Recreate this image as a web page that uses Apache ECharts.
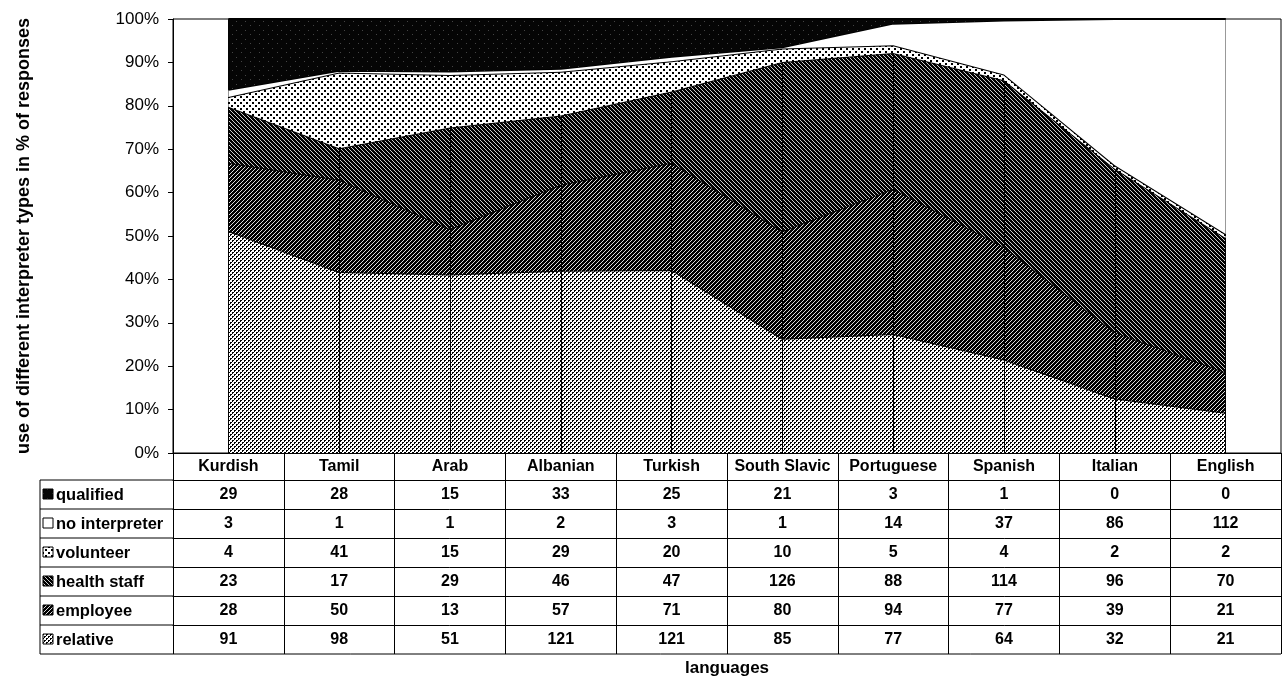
<!DOCTYPE html>
<html>
<head>
<meta charset="utf-8">
<script src="https://cdn.jsdelivr.net/npm/echarts@6/dist/echarts.min.js"></script>
<style>
html,body{margin:0;padding:0;background:#fff;}
#c{width:1287px;height:679px;}
</style>
</head>
<body>
<div id="c"></div>
<script>
// ---- data ----
const categories = ['Kurdish','Tamil','Arab','Albanian','Turkish','South Slavic','Portuguese','Spanish','Italian','English'];
const qualified     = [29, 28, 15, 33, 25, 21, 3, 1, 0, 0];
const noInterpreter = [3, 1, 1, 2, 3, 1, 14, 37, 86, 112];
const volunteer     = [4, 41, 15, 29, 20, 10, 5, 4, 2, 2];
const healthStaff   = [23, 17, 29, 46, 47, 126, 88, 114, 96, 70];
const employee      = [28, 50, 13, 57, 71, 80, 94, 77, 39, 21];
const relative      = [91, 98, 51, 121, 121, 85, 77, 64, 32, 21];
const seriesNames   = ['qualified','no interpreter','volunteer','health staff','employee','relative'];
const yTitle = 'use of different interpreter types in % of responses';
const xTitle = 'languages';

// ---- patterns ----
function pattern(size, draw){
  const c = document.createElement('canvas');
  c.width = size; c.height = size;
  const ctx = c.getContext('2d');
  draw(ctx, size);
  return {image: c, repeat: 'repeat'};
}
function px(ctx, pts, col){ ctx.fillStyle = col; pts.forEach(p => ctx.fillRect(p[0], p[1], 1, 1)); }
const patRelative = pattern(4, (ctx)=>{ ctx.fillStyle='#fff'; ctx.fillRect(0,0,4,4);
  px(ctx, [[0,0],[1,0],[0,1],[2,2],[3,2],[2,3]], '#000'); });
const patVolunteer = pattern(6, (ctx)=>{ ctx.fillStyle='#fff'; ctx.fillRect(0,0,6,6);
  ctx.fillStyle='#000'; ctx.fillRect(0,0,2,2); ctx.fillRect(3,3,2,2); });
const patEmployee = pattern(4, (ctx)=>{ ctx.fillStyle='#000'; ctx.fillRect(0,0,4,4);
  px(ctx, [[3,0],[2,1],[1,2],[0,3]], '#ddd'); });
const patHealth = pattern(4, (ctx)=>{ ctx.fillStyle='#000'; ctx.fillRect(0,0,4,4);
  px(ctx, [[0,0],[1,1],[2,2],[3,3]], '#ccc'); });
const patQualified = pattern(9, (ctx)=>{ ctx.fillStyle='#050505'; ctx.fillRect(0,0,9,9);
  px(ctx, [[2,3],[7,7]], '#444'); });
const fills = {
  'qualified': patQualified, 'no interpreter': '#ffffff', 'volunteer': patVolunteer,
  'health staff': patHealth, 'employee': patEmployee, 'relative': patRelative
};
const rawBy = {
  'qualified': qualified, 'no interpreter': noInterpreter, 'volunteer': volunteer,
  'health staff': healthStaff, 'employee': employee, 'relative': relative
};

// ---- percentages (100% stack) ----
const totals = categories.map((_, i) => seriesNames.reduce((s, n) => s + rawBy[n][i], 0));
const pct = arr => arr.map((v, i) => v / totals[i] * 100);

// ---- layout ----
const W = 1287, H = 679;
const GL = 173, GR = 6, GT = 19, GB = 226;
const plotBottom = H - GB;
const HEADER_H = 27, ROW_H = 29, TABLE_LEFT = 40;
const tableBottom = plotBottom + HEADER_H + ROW_H * seriesNames.length;
const FONT = '"Liberation Sans", Arial, Helvetica, sans-serif';

const chart = echarts.init(document.getElementById('c'), null, {renderer: 'canvas'});

const stackOrder = ['relative','employee','health staff','volunteer','no interpreter','qualified'];
const series = stackOrder.map((name, k) => {
  const s = {
    name, type: 'line', stack: 'total', data: pct(rawBy[name]),
    symbol: 'none', smooth: false, xAxisIndex: 0,
    lineStyle: {color: '#000', width: 2},
    itemStyle: {color: '#000'},
    areaStyle: {color: fills[name], opacity: 1},
    z: 2 + k, animation: false, silent: true
  };
  if (name === 'qualified') {
    s.markLine = {
      silent: true, symbol: ['none','none'], animation: false,
      label: {show: false},
      lineStyle: {color: '#000', width: 1, type: 'solid'},
      data: categories.map(c => ({xAxis: c}))
    };
  }
  return s;
});

// extra x axes that hold the table rows
const rowAxes = seriesNames.map((name, r) => ({
  type: 'category', gridIndex: 0, position: 'bottom', data: categories,
  offset: HEADER_H + ROW_H * r,
  axisLine: {show: true, lineStyle: {color: '#000', width: 1}},
  axisTick: {show: false}, splitLine: {show: false},
  axisLabel: {
    interval: 0, margin: 7, color: '#000', fontSize: 16, fontWeight: 'bold', fontFamily: FONT,
    formatter: (v, idx) => String(rawBy[name][idx])
  }
}));

const graphics = [];
// legend column borders
graphics.push({type: 'line', shape: {x1: TABLE_LEFT, y1: plotBottom + HEADER_H, x2: TABLE_LEFT, y2: tableBottom},
  style: {stroke: '#000', lineWidth: 1}});
for (let r = 0; r <= seriesNames.length; r++) {
  const y = plotBottom + HEADER_H + ROW_H * r;
  graphics.push({type: 'line', shape: {x1: TABLE_LEFT, y1: y, x2: r === seriesNames.length ? W - GR : GL, y2: y},
    style: {stroke: '#000', lineWidth: 1}});
}
seriesNames.forEach((name, r) => {
  const yTop = plotBottom + HEADER_H + ROW_H * r;
  graphics.push({type: 'rect', shape: {x: TABLE_LEFT + 3, y: yTop + 9, width: 10, height: 10},
    style: {fill: fills[name], stroke: '#000', lineWidth: 1}});
  graphics.push({type: 'text', x: TABLE_LEFT + 16, y: yTop + ROW_H / 2 + 1,
    style: {text: name, fill: '#000', font: 'bold 16.5px ' + FONT, textVerticalAlign: 'middle', textAlign: 'left'}});
});
graphics.push({type: 'text', x: GL + (W - GR - GL) / 2, y: tableBottom + 14,
  style: {text: xTitle, fill: '#000', font: 'bold 17px ' + FONT, textAlign: 'center', textVerticalAlign: 'middle'}});

chart.setOption({
  animation: false,
  backgroundColor: '#fff',
  grid: {left: GL, right: GR, top: GT, bottom: GB, show: true, borderColor: '#000', borderWidth: 1, backgroundColor: 'transparent'},
  xAxis: [{
    type: 'category', data: categories, boundaryGap: true, gridIndex: 0, position: 'bottom',
    axisLine: {show: true, lineStyle: {color: '#000', width: 1}},
    axisTick: {show: true, inside: false, length: tableBottom - plotBottom, lineStyle: {color: '#000', width: 1}},
    axisLabel: {interval: 0, margin: 6, color: '#000', fontSize: 16, fontWeight: 'bold', fontFamily: FONT},
    splitLine: {show: false}
  }].concat(rowAxes),
  yAxis: {
    type: 'value', min: 0, max: 100, interval: 10,
    name: yTitle, nameLocation: 'middle', nameRotate: 90, nameGap: 140,
    nameTextStyle: {color: '#000', fontSize: 18, fontWeight: 'bold', fontFamily: FONT},
    axisLine: {show: true, lineStyle: {color: '#000', width: 1}},
    axisTick: {show: true, inside: false, length: 5, lineStyle: {color: '#000'}},
    axisLabel: {formatter: '{value}%', color: '#000', fontSize: 17, fontFamily: FONT, margin: 14},
    splitLine: {show: false}
  },
  series,
  graphic: graphics
});
</script>
</body>
</html>
